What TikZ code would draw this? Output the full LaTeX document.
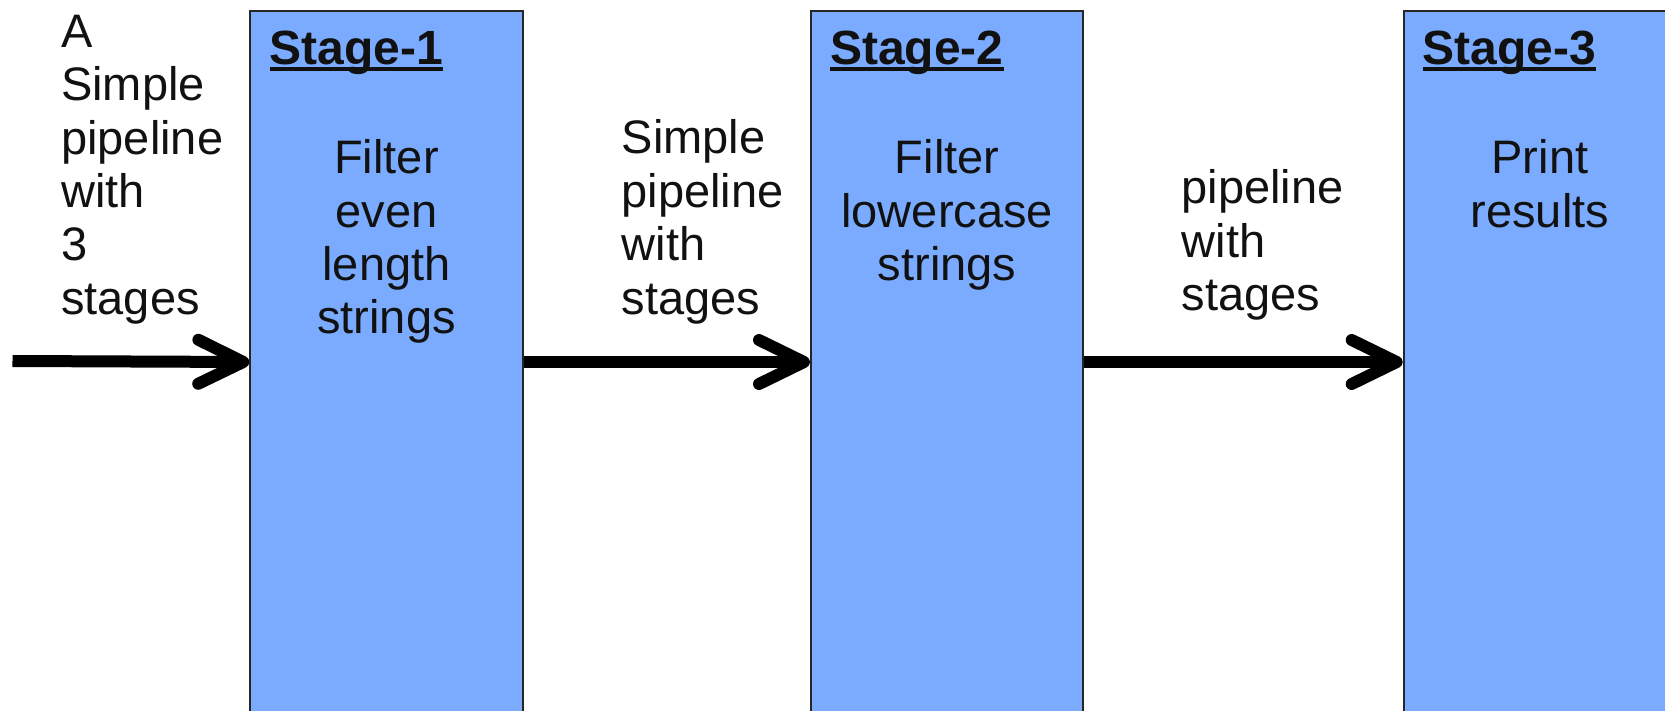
\documentclass[tikz,border=0pt]{standalone}
\usepackage{fontspec}
\setmainfont{Liberation Sans}
\usetikzlibrary{arrows.meta,calc}
\definecolor{boxblue}{RGB}{122,171,255}
\definecolor{txt}{RGB}{17,17,17}
\newcommand{\stul}[1]{{\setbox0=\hbox{#1}\rlap{\rule[-6.6pt]{\wd0}{3.8pt}}\box0}}
\begin{document}
\begin{tikzpicture}[x=1pt,y=-1pt,
  stagebox/.style={draw=black!85, line width=2pt, fill=boxblue, rectangle,
    minimum width=272.4pt, minimum height=702pt, anchor=north west, inner sep=0pt},
  lbl/.style={font=\fontsize{47}{53.4}\selectfont, text=txt, inner sep=0pt,
    align=left, anchor=base west},
  desc/.style={font=\fontsize{47}{53.3}\selectfont, text=txt, inner sep=0pt,
    text width=272pt, align=center, anchor=base},
  ttl/.style={font=\fontsize{48}{54}\selectfont\bfseries, text=txt,
    inner sep=0pt, anchor=base west},
  arr/.style={line width=12pt, draw=black,
    -{Straight Barb[length=45pt,width=44pt,round]}}]
\useasboundingbox (0,0) rectangle (1665,711);
\clip (0,0) rectangle (1665,711);
% stage boxes
\node[stagebox] (s1) at (249.3,10) {};
\node[stagebox] (s2) at (810,10) {};
\node[stagebox] (s3) at (1402.7,10) {};
% titles
\node[ttl] (t1) at ($(s1.north west)+(20,54.3)$) {\stul{Stage-1}};
\node[ttl] (t2) at ($(s2.north west)+(20,54.3)$) {\stul{Stage-2}};
\node[ttl] (t3) at ($(s3.north west)+(20,54.3)$) {\stul{Stage-3}};
% descriptions
\node[desc] (d1) at ($(s1.north)+(0,164)$) {Filter\\even\\length\\strings};
\node[desc] (d2) at ($(s2.north)+(0,164)$) {Filter\\lowercase\\strings};
\node[desc] (d3) at ($(s3.north)+(0,164)$) {Print\\results};
% side texts
\node[lbl, text width=200pt] (intro) at (61,47.3) {A\\Simple\\pipeline\\with\\3\\stages};
\node[lbl, text width=185pt] (mid1) at (621.5,154) {Simple\\pipeline\\with\\stages};
\node[lbl, text width=180pt] (mid2) at (1181.5,204) {pipeline\\with\\stages};
% connectors
\coordinate (in) at (12.5,361);
\draw[arr] (in) -- (s1.west);
\draw[arr] (s1.east) -- (s2.west);
\draw[arr] (s2.east) -- (s3.west);
\end{tikzpicture}
\end{document}
